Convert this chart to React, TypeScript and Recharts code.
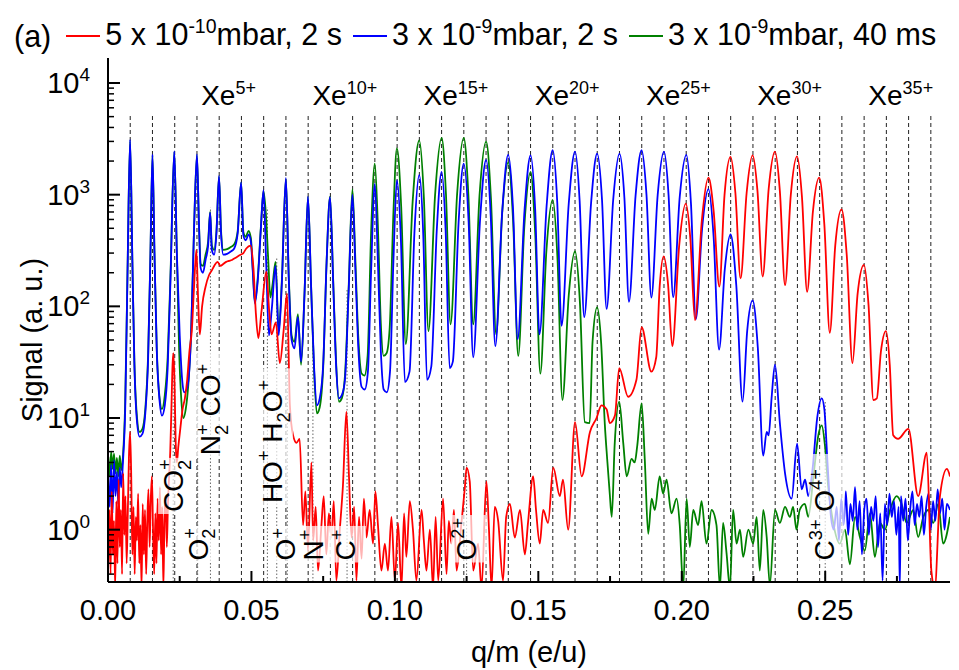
import React from 'react';
import { LineChart, Line, XAxis, YAxis, ReferenceLine, ReferenceDot, Label } from 'recharts';

const FONT = "'Liberation Sans', Arial, sans-serif";

const X_MAX = 0.2935;
const Y_MIN = 0.34;
const Y_MAX = 16750;

const X_TICKS = [0, 0.025, 0.05, 0.075, 0.1, 0.125, 0.15, 0.175, 0.2, 0.225, 0.25, 0.275];
const Y_TICKS = [
  0.4, 0.5, 0.6, 0.7, 0.8, 0.9, 1, 2, 3, 4, 5, 6, 7, 8, 9, 10, 20, 30, 40, 50, 60, 70, 80, 90,
  100, 200, 300, 400, 500, 600, 700, 800, 900, 1000, 2000, 3000, 4000, 5000, 6000, 7000, 8000, 9000, 10000,
];

// Xe charge states 1..37 (q/m for 129Xe)
const XE_LINES = [
  0.00775, 0.0155, 0.02326, 0.03101, 0.03876, 0.04651, 0.05426, 0.06202, 0.06977, 0.07752,
  0.08527, 0.09302, 0.10078, 0.10853, 0.11628, 0.12403, 0.13178, 0.13953, 0.14729, 0.15504,
  0.16279, 0.17054, 0.17829, 0.18605, 0.1938, 0.20155, 0.2093, 0.21705, 0.22481, 0.23256,
  0.24031, 0.24806, 0.25581, 0.26357, 0.27132, 0.27907, 0.28682,
];
const XE_LABEL_Q = [5, 10, 15, 20, 25, 30, 35];
const XE_LABEL_X = [0.03876, 0.07752, 0.11628, 0.15504, 0.1938, 0.23256, 0.27132];
const XE_LABEL_Y = 6300;
const XE_LINE_TOP = 5200;

// rest-gas ion lines: [q/m, top of dotted line]
const ION_LINES: [number, number][] = [
  [0.02273, 40], [0.03125, 60], [0.03571, 770], [0.05556, 770], [0.05882, 270],
  [0.0625, 130], [0.07143, 60], [0.08333, 140], [0.125, 4.1], [0.25, 14.5],
];

type Part = [string, ('sub' | 'sup' | 'stk')?];
const ION_LABELS: { x: number; y: number; parts: Part[] }[] = [
  { x: 0.0227, y: 1.44, parts: [['CO'], ['2', 'sub'], ['+', 'stk']] },
  { x: 0.03125, y: 0.53, parts: [['O'], ['2', 'sub'], ['+', 'stk']] },
  { x: 0.0357, y: 4.65, parts: [['N'], ['2', 'sub'], ['+', 'stk'], [' CO'], ['+', 'sup']] },
  { x: 0.0572, y: 1.73, parts: [['HO'], ['+', 'sup'], [' H'], ['2', 'sub'], ['O'], ['+', 'sup']] },
  { x: 0.0618, y: 0.53, parts: [['O'], ['+', 'sup']] },
  { x: 0.0714, y: 0.53, parts: [['N'], ['+', 'sup']] },
  { x: 0.0826, y: 0.53, parts: [['C'], ['+', 'sup']] },
  { x: 0.1248, y: 0.53, parts: [['O'], ['2+', 'sup']] },
  { x: 0.2495, y: 0.53, parts: [['C'], ['3+', 'sup'], [' O'], ['4+', 'sup']] },
];

const LEGEND_ITEMS = [
  { color: '#ff0000', pre: '5 x 10', exp: '-10', post: 'mbar, 2 s' },
  { color: '#0000ff', pre: '3 x 10', exp: '-9', post: 'mbar, 2 s' },
  { color: '#008000', pre: '3 x 10', exp: '-9', post: 'mbar, 40 ms' },
];

// 5 x 10^-10 mbar, 2 s
const RED: [number, number][] = [
  [0.0001, 0.5], [0.0005, 1.5], [0.0009, 0.4], [0.0013, 2.2], [0.0017, 0.6], [0.0021, 1.2],
  [0.0025, 0.3], [0.0029, 1.8], [0.0033, 0.5], [0.0037, 2.8], [0.0041, 0.7], [0.0045, 1.5],
  [0.0049, 0.4], [0.0053, 3.2], [0.0057, 0.9], [0.0061, 2.0], [0.0065, 0.5], [0.0069, 1.4],
  [0.0073, 4.5], [0.0077, 7.5], [0.0081, 3.0], [0.0085, 0.6], [0.0089, 1.6], [0.0093, 0.4],
  [0.0097, 1.3], [0.0101, 0.8], [0.0105, 2.1], [0.0109, 0.5], [0.0113, 1.1], [0.0117, 0.3],
  [0.0121, 1.7], [0.0125, 0.6], [0.0129, 1.5], [0.0133, 0.4], [0.0137, 1.2], [0.0141, 2.3],
  [0.0145, 0.7], [0.0149, 1.8], [0.0153, 3.0], [0.0157, 1.0], [0.0161, 0.4], [0.0165, 1.4],
  [0.0169, 0.5], [0.0173, 1.9], [0.0177, 0.8], [0.0181, 2.4], [0.0185, 0.6], [0.0189, 1.6],
  [0.0193, 0.3], [0.0197, 1.3], [0.0201, 2.0], [0.0205, 0.7], [0.0209, 1.7], [0.0213, 3.0],
  [0.0217, 5], [0.0221, 12], [0.0225, 30], [0.0228, 38], [0.0232, 20], [0.0236, 6],
  [0.024, 4], [0.0245, 5.5], [0.0252, 8], [0.026, 12], [0.0268, 15], [0.0276, 22],
  [0.0284, 40], [0.0292, 60], [0.03, 150], [0.0308, 320], [0.0314, 120], [0.032, 56],
  [0.0328, 100], [0.034, 150], [0.0352, 190], [0.0362, 210], [0.0372, 235], [0.0382, 250],
  [0.0392, 230], [0.0402, 240], [0.0412, 250], [0.0422, 255], [0.0432, 260], [0.0442, 270],
  [0.0452, 280], [0.0462, 290], [0.0472, 300], [0.0482, 330], [0.0497, 350], [0.0507, 220],
  [0.0515, 90], [0.0524, 52], [0.0535, 90], [0.0552, 205], [0.0562, 90], [0.057, 56],
  [0.0585, 72], [0.0599, 31], [0.0612, 60], [0.0624, 130], [0.0634, 13], [0.0645, 7],
  [0.0657, 6], [0.0668, 6.5], [0.068, 1.1], [0.0688, 2.2], [0.0697, 0.65], [0.0709, 4],
  [0.0715, 0.8], [0.0724, 1.6], [0.0732, 0.43], [0.0744, 1.1], [0.0752, 2.0], [0.0761, 0.6],
  [0.0770, 1.4], [0.0779, 0.85], [0.0787, 1.8], [0.0796, 0.35], [0.0808, 1.0], [0.0819, 2.5],
  [0.0831, 11.4], [0.084, 3], [0.0849, 0.85], [0.0858, 1.6], [0.0866, 0.35], [0.0875, 1.3],
  [0.0884, 0.55], [0.0892, 1.9], [0.0901, 0.85], [0.0912, 1.5], [0.0924, 0.75], [0.0932, 2.2],
  [0.0941, 1.1], [0.0953, 0.43], [0.0965, 0.75], [0.0976, 0.43], [0.0988, 1.3], [0.1, 0.35],
  [0.1011, 1.15], [0.1023, 0.3], [0.1032, 1.4], [0.104, 0.57], [0.1052, 1.8], [0.1063, 1.0],
  [0.1075, 0.35], [0.1093, 1.5], [0.1101, 0.8], [0.111, 0.43], [0.1122, 1.0], [0.1133, 0.3],
  [0.1142, 1.3], [0.1151, 0.35], [0.1168, 1.9], [0.118, 0.4], [0.1188, 1.2], [0.1197, 0.75],
  [0.1206, 1.5], [0.1215, 0.43], [0.1232, 1.15], [0.1244, 2.4], [0.125, 3.6], [0.1261, 2.7],
  [0.1273, 0.43], [0.129, 0.75], [0.1302, 0.3], [0.1319, 2.7], [0.1328, 1.0], [0.1337, 0.3],
  [0.1348, 1.6], [0.136, 1.2], [0.1377, 0.35], [0.1388, 1.3], [0.1401, 1.7], [0.1418, 0.85],
  [0.1436, 1.5], [0.1453, 0.6], [0.1464, 1.15], [0.1482, 3.0], [0.1492, 1.5], [0.1505, 0.75],
  [0.1517, 1.5], [0.1534, 1.15], [0.1552, 3.6], [0.1575, 2.0], [0.1586, 2.8], [0.1604, 1.0],
  [0.1628, 9.2], [0.1651, 3.0], [0.168, 7.5], [0.1703, 10], [0.172, 13], [0.1738, 12],
  [0.1749, 9], [0.1767, 10.5], [0.1782, 28], [0.1813, 15.5], [0.1842, 22], [0.186, 65],
  [0.1894, 26], [0.1911, 35], [0.1923, 150], [0.1937, 280], [0.1952, 160], [0.1967, 44],
  [0.1991, 350], [0.2014, 830], [0.203, 400], [0.2046, 75], [0.207, 590], [0.2093, 1420],
  [0.2111, 720], [0.2131, 150], [0.2149, 990], [0.217, 2180], [0.2187, 1030], [0.2205, 178],
  [0.2226, 1030], [0.2247, 2250], [0.2264, 1070], [0.2282, 185], [0.2303, 1130], [0.2325, 2430],
  [0.2342, 1070], [0.236, 155], [0.238, 990], [0.2402, 2200], [0.2419, 950], [0.2437, 135],
  [0.2457, 700], [0.2479, 1420], [0.2497, 540], [0.2516, 58], [0.2535, 350], [0.2557, 740],
  [0.2575, 290], [0.2595, 31], [0.2613, 130], [0.2635, 235], [0.2651, 103], [0.2668, 14.5],
  [0.268, 15], [0.2694, 39], [0.2712, 60], [0.2725, 30], [0.2737, 7], [0.2754, 6.5],
  [0.279, 8], [0.2824, 2], [0.2854, 4.9], [0.287, 0.43], [0.2882, 0.3], [0.29, 2],
  [0.2924, 3.5], [0.2935, 3],
];

// 3 x 10^-9 mbar, 2 s
const BLUE: [number, number][] = [
  [0.0001, 3.0], [0.0006, 1.6], [0.0011, 3.8], [0.0016, 1.4], [0.0021, 4.2], [0.0026, 2.0],
  [0.0031, 3.3], [0.0036, 1.7], [0.0041, 3.6], [0.0046, 2.4], [0.0052, 4.0], [0.006, 12],
  [0.0068, 200], [0.0077, 3100], [0.0085, 250], [0.0092, 30], [0.01, 10], [0.011, 6.8],
  [0.012, 7.2], [0.013, 11], [0.014, 35], [0.0148, 300], [0.0155, 2300], [0.0162, 300],
  [0.017, 40], [0.018, 14], [0.0188, 10.5], [0.0198, 13], [0.0208, 28], [0.0218, 180],
  [0.0231, 2450], [0.024, 300], [0.025, 55], [0.026, 20], [0.0266, 17], [0.0274, 18],
  [0.0282, 24], [0.029, 60], [0.03, 500], [0.031, 2300], [0.0317, 550], [0.0323, 220],
  [0.0331, 200], [0.034, 260], [0.0349, 350], [0.0356, 690], [0.0362, 320], [0.037, 290],
  [0.0378, 450], [0.0387, 1470], [0.0394, 450], [0.0402, 290], [0.0415, 295], [0.0428, 310],
  [0.044, 330], [0.0452, 450], [0.0464, 1290], [0.0472, 430], [0.048, 390], [0.049, 440],
  [0.0498, 380], [0.0505, 200], [0.0512, 106], [0.0522, 170], [0.0533, 500], [0.0542, 1100],
  [0.0551, 260], [0.0561, 55], [0.0571, 95], [0.0584, 230], [0.0595, 55], [0.0606, 160],
  [0.062, 1410], [0.063, 180], [0.064, 50], [0.065, 42], [0.0662, 80], [0.0673, 32],
  [0.0685, 130], [0.0697, 960], [0.0708, 150], [0.0718, 30], [0.0728, 13], [0.0738, 15],
  [0.075, 30], [0.0762, 250], [0.0774, 950], [0.0785, 160], [0.0795, 30], [0.0805, 15],
  [0.0815, 16], [0.0826, 22], [0.0839, 140], [0.0852, 1000], [0.0863, 190], [0.0873, 40],
  [0.0884, 19], [0.0895, 18], [0.0906, 26], [0.0917, 200], [0.093, 1250], [0.0941, 240],
  [0.0951, 40], [0.0961, 18], [0.0972, 17], [0.0983, 26], [0.0995, 260], [0.1007, 1350],
  [0.1021, 390], [0.1035, 21], [0.1051, 26], [0.1068, 450], [0.1085, 1500], [0.1099, 430],
  [0.1112, 22], [0.1127, 29], [0.1146, 480], [0.1163, 1600], [0.1177, 470], [0.1191, 28],
  [0.1202, 32], [0.1222, 560], [0.124, 1900], [0.1257, 575], [0.1273, 35], [0.1297, 600],
  [0.1318, 2050], [0.1334, 650], [0.135, 44], [0.1374, 700], [0.1395, 2270], [0.1412, 730],
  [0.1428, 51], [0.1452, 730], [0.1473, 2250], [0.1489, 740], [0.1504, 56], [0.1529, 800],
  [0.155, 2500], [0.1566, 850], [0.1581, 67], [0.1606, 830], [0.1628, 2430], [0.1644, 880],
  [0.166, 80], [0.1684, 850], [0.1705, 2330], [0.1722, 900], [0.1738, 95], [0.1761, 900],
  [0.1783, 2330], [0.18, 940], [0.1816, 110], [0.1839, 980], [0.186, 2500], [0.1877, 1000],
  [0.1894, 120], [0.1916, 990], [0.1938, 2430], [0.1954, 990], [0.197, 121], [0.1993, 960],
  [0.2016, 2270], [0.2032, 840], [0.2049, 77], [0.2071, 500], [0.2093, 1120], [0.2111, 420],
  [0.213, 41], [0.215, 215], [0.217, 440], [0.219, 155], [0.2212, 14], [0.2228, 60],
  [0.2247, 113], [0.2265, 43], [0.2284, 4.6], [0.2296, 7.5], [0.2303, 7.0], [0.2313, 15],
  [0.2325, 30], [0.2342, 9], [0.236, 3.2], [0.2383, 1.9], [0.2402, 5.9], [0.2418, 2.3],
  [0.243, 2.8], [0.2441, 2.0], [0.2456, 3.5], [0.2472, 10], [0.2488, 15], [0.2497, 12],
  [0.2508, 4], [0.252, 1.3], [0.253, 1.0], [0.254, 1.6], [0.2548, 0.8], [0.2556, 1.9],
  [0.2564, 1.1], [0.2572, 2.2], [0.258, 0.9], [0.2588, 1.7], [0.2596, 1.2], [0.2604, 2.4],
  [0.2612, 1.0], [0.262, 1.8], [0.2628, 0.6], [0.2636, 1.5], [0.2644, 1.9], [0.2652, 0.9],
  [0.266, 1.6], [0.2668, 1.2], [0.2676, 2.0], [0.2684, 0.7], [0.2692, 1.4], [0.27, 0.35],
  [0.2708, 1.7], [0.2716, 1.1], [0.2724, 2.1], [0.2732, 1.3], [0.274, 1.8], [0.2748, 0.9],
  [0.2756, 1.6], [0.276, 0.3], [0.2764, 2.0], [0.2772, 1.2], [0.278, 1.9], [0.2788, 0.8],
  [0.2796, 1.5], [0.2804, 2.2], [0.2812, 1.1], [0.282, 1.7], [0.2828, 1.3], [0.2836, 2.0],
  [0.2844, 0.9], [0.2852, 1.6], [0.286, 2.1], [0.2868, 1.0], [0.2876, 1.8], [0.2884, 1.2],
  [0.2892, 2.3], [0.29, 1.4], [0.2908, 1.9], [0.2916, 1.0], [0.2924, 1.7], [0.2935, 1.5],
];

// 3 x 10^-9 mbar, 40 ms
const GREEN: [number, number][] = [
  [0.0001, 4.5], [0.0006, 3.0], [0.0011, 5.0], [0.0016, 3.5], [0.0021, 4.8], [0.0026, 3.2],
  [0.0031, 4.4], [0.0036, 3.0], [0.0041, 4.6], [0.0046, 3.4], [0.0052, 4.5], [0.006, 14],
  [0.0068, 200], [0.0077, 3000], [0.0085, 250], [0.0092, 32], [0.01, 11], [0.011, 7.5],
  [0.012, 8], [0.013, 12], [0.014, 38], [0.0148, 300], [0.0155, 2250], [0.0162, 300],
  [0.017, 42], [0.018, 15], [0.0188, 12], [0.0198, 16], [0.0208, 35], [0.0218, 200],
  [0.0231, 2400], [0.024, 300], [0.0248, 40], [0.0256, 14], [0.0263, 10], [0.0271, 12],
  [0.028, 20], [0.029, 60], [0.03, 500], [0.031, 2250], [0.0317, 560], [0.0323, 240],
  [0.0331, 230], [0.034, 290], [0.0349, 380], [0.0356, 700], [0.0362, 350], [0.037, 320],
  [0.0378, 470], [0.0387, 1450], [0.0394, 480], [0.0402, 320], [0.0415, 325], [0.0428, 340],
  [0.044, 360], [0.0452, 470], [0.0464, 1280], [0.0472, 460], [0.048, 420], [0.049, 475],
  [0.0498, 410], [0.0505, 210], [0.0512, 110], [0.0522, 180], [0.0533, 520], [0.0542, 1080],
  [0.055, 690], [0.0558, 280], [0.0566, 120], [0.0574, 160], [0.0584, 250], [0.0595, 60],
  [0.0606, 170], [0.062, 1380], [0.063, 190], [0.064, 55], [0.065, 48], [0.0662, 85],
  [0.0673, 30], [0.0685, 130], [0.0697, 950], [0.0708, 150], [0.0718, 28], [0.0728, 11],
  [0.0738, 12.5], [0.075, 28], [0.0762, 250], [0.0774, 960], [0.0785, 170], [0.0795, 32],
  [0.0805, 14], [0.0815, 15], [0.0826, 24], [0.0839, 150], [0.0852, 1120], [0.0863, 230],
  [0.0873, 50], [0.0884, 25], [0.0894, 24], [0.0905, 36], [0.0917, 450], [0.093, 1900],
  [0.0941, 500], [0.0951, 70], [0.0961, 36], [0.0971, 38], [0.0982, 65], [0.0995, 700],
  [0.1007, 2600], [0.1022, 780], [0.1038, 46], [0.1062, 870], [0.1085, 3070], [0.1101, 950],
  [0.1117, 60], [0.114, 980], [0.1163, 3220], [0.1178, 1020], [0.1194, 69], [0.1217, 1020],
  [0.124, 3220], [0.1256, 1020], [0.1273, 69], [0.1295, 980], [0.1318, 2990], [0.1335, 910],
  [0.1353, 56], [0.1374, 680], [0.1395, 1950], [0.1412, 590], [0.143, 36], [0.1451, 510],
  [0.1473, 1600], [0.1489, 460], [0.1507, 25], [0.1528, 310], [0.155, 900], [0.1567, 260],
  [0.1584, 14.5], [0.1606, 125], [0.1628, 310], [0.1645, 108], [0.1662, 9.2], [0.1679, 9.0],
  [0.1689, 48], [0.1705, 98], [0.1719, 47], [0.1732, 8.6], [0.174, 4.3], [0.1749, 2.1],
  [0.1756, 1.3], [0.1766, 5.7], [0.1782, 14], [0.1796, 6], [0.1808, 3], [0.1825, 4.3],
  [0.1836, 4], [0.1845, 5.7], [0.186, 13.5], [0.1871, 4.3], [0.1883, 0.92], [0.1895, 1.9],
  [0.1906, 1.5], [0.1923, 3], [0.1935, 2.1], [0.1947, 2.8], [0.1964, 1.4], [0.1982, 1.9],
  [0.1993, 1.1], [0.2005, 0.3], [0.2017, 1.9], [0.2028, 0.7], [0.204, 1.5], [0.2057, 1.1],
  [0.2069, 1.8], [0.2086, 0.75], [0.2104, 1.5], [0.2121, 1.1], [0.2133, 0.3], [0.2144, 1.15],
  [0.2156, 0.62], [0.2168, 0.3], [0.2179, 1.5], [0.2191, 0.75], [0.2203, 1.0], [0.2214, 0.57],
  [0.2232, 1.0], [0.2249, 0.75], [0.2261, 1.3], [0.2272, 0.43], [0.2284, 1.5], [0.2296, 0.86],
  [0.2307, 0.32], [0.2325, 1.5], [0.2342, 1.15], [0.236, 1.6], [0.2377, 1.3], [0.2388, 1.6],
  [0.24, 1.0], [0.2411, 1.5], [0.2429, 1.7], [0.2441, 1.3], [0.2459, 3], [0.2476, 7],
  [0.2488, 8.6], [0.2499, 5.7], [0.251, 2.5], [0.2528, 1.15], [0.2551, 0.75], [0.2569, 1.0],
  [0.2586, 0.49], [0.2604, 1.3], [0.2621, 0.86], [0.2638, 0.65], [0.2656, 1.4], [0.2673, 0.57],
  [0.2691, 1.15], [0.2708, 1.0], [0.2726, 1.5], [0.2749, 2], [0.2766, 1.7], [0.2784, 1.15],
  [0.2807, 1.5], [0.2824, 0.86], [0.2842, 1.3], [0.2859, 1.5], [0.2877, 1.15], [0.2894, 1.7],
  [0.2911, 0.75], [0.2935, 1.3],
];

const toRows = (pts: [number, number][]) => pts.map(([x, y]) => ({ x, y }));

function XTick(props: any) {
  const { x, y, payload, side } = props;
  const v = payload.value;
  const major = Math.abs(v * 20 - Math.round(v * 20)) < 1e-6;
  const len = major ? 11 : 6;
  const dir = side === 'top' ? 1 : -1;
  return (
    <g>
      <line x1={x} x2={x} y1={y} y2={y + dir * len} stroke="#000" strokeWidth={2} />
      {side === 'bottom' && major && (
        <text x={x} y={y + 38} textAnchor="middle" fontSize={29} fontFamily={FONT} fill="#000">
          {v.toFixed(2)}
        </text>
      )}
    </g>
  );
}

function YTick(props: any) {
  const { x, y, payload, side } = props;
  const e = Math.log10(payload.value);
  const major = Math.abs(e - Math.round(e)) < 1e-6;
  const len = major ? 12 : 6;
  const dir = side === 'left' ? 1 : -1;
  return (
    <g>
      <line x1={x} x2={x + dir * len} y1={y} y2={y} stroke="#000" strokeWidth={major ? 2 : 1.5} />
      {side === 'left' && major && (
        <text x={x - 18} y={y + 10} textAnchor="end" fontSize={29} fontFamily={FONT} fill="#000">
          10<tspan dy={-12} fontSize={19}>{Math.round(e)}</tspan>
        </text>
      )}
    </g>
  );
}

function XeLabel(props: any) {
  const { viewBox, q } = props;
  return (
    <text x={viewBox.x - 18} y={viewBox.y} fontSize={28} fontFamily={FONT} fill="#000">
      Xe<tspan dy={-11} fontSize={18}>{q}+</tspan>
    </text>
  );
}

function IonLabel(props: any) {
  const { viewBox, parts } = props;
  const size = 28;
  const small = size * 0.65;
  let shift = 0;
  let len = 0;
  const spans = (parts as Part[]).map(([t, k], i) => {
    const target = k === 'sub' ? size * 0.28 : k === 'sup' || k === 'stk' ? -size * 0.42 : 0;
    const dy = target - shift;
    shift = target;
    const dx = k === 'stk' ? -small * 0.556 : 0;
    if (!k) len += t.length * size * 0.7;
    else if (k !== 'stk') len += t.length * small * 0.6;
    return (
      <tspan key={i} dx={dx} dy={dy} fontSize={k ? small : size} style={{ whiteSpace: 'pre' }}>
        {t}
      </tspan>
    );
  });
  return (
    <g transform={`translate(${viewBox.x},${viewBox.y}) rotate(-90)`}>
      <rect x={-2} y={-15} width={len + 6} height={36} fill="#fff" fillOpacity={0.7} />
      <text x={0} y={10} fontSize={size} fontFamily={FONT} fill="#000">
        {spans}
      </text>
    </g>
  );
}

function XTitle(props: any) {
  const { viewBox } = props;
  return (
    <text x={viewBox.x + viewBox.width / 2} y={viewBox.y + 80} textAnchor="middle" fontSize={29} fontFamily={FONT} fill="#000">
      q/m (e/u)
    </text>
  );
}

function YTitle(props: any) {
  const { viewBox } = props;
  const cx = viewBox.x + 42;
  const cy = viewBox.y + viewBox.height / 2 + 20;
  return (
    <text transform={`translate(${cx},${cy}) rotate(-90)`} textAnchor="middle" fontSize={29} fontFamily={FONT} fill="#000">
      Signal (a. u.)
    </text>
  );
}

export default function App() {
  return (
    <div style={{ position: 'absolute', left: 0, top: 0, width: 959, height: 670, background: '#fff', fontFamily: FONT }}>
      <div
        style={{
          position: 'absolute', left: 14, top: 14, display: 'flex', alignItems: 'center',
          fontSize: 30.5, lineHeight: '40px', whiteSpace: 'nowrap', color: '#000',
        }}
      >
        <span style={{ marginRight: 4 }}>(a)</span>
        {LEGEND_ITEMS.map((it) => (
          <React.Fragment key={it.color}>
            <span style={{ display: 'inline-block', width: 34, height: 2, background: it.color, margin: '0 5px 0 11px' }} />
            <span>
              {it.pre}
              <span style={{ fontSize: 19.5, position: 'relative', top: -12 }}>{it.exp}</span>
              {it.post}
            </span>
          </React.Fragment>
        ))}
      </div>
      <LineChart width={959} height={670} margin={{ top: 58, right: 9, bottom: 0, left: 0 }} style={{ position: 'absolute', left: 0, top: 0 }}>
        <XAxis
          xAxisId="b" type="number" dataKey="x" domain={[0, X_MAX]} ticks={X_TICKS} interval={0}
          allowDataOverflow height={88} tickSize={0} tickMargin={0} tickLine={false}
          axisLine={{ stroke: '#000', strokeWidth: 2 }} tick={<XTick side="bottom" />}
        >
          <Label content={<XTitle />} />
        </XAxis>
        <XAxis
          xAxisId="t" orientation="top" type="number" dataKey="x" domain={[0, X_MAX]} ticks={X_TICKS}
          interval={0} allowDataOverflow height={0} tickSize={0} tickMargin={0} tickLine={false}
          axisLine={{ stroke: '#000', strokeWidth: 2 }} tick={<XTick side="top" />}
        />
        <YAxis
          yAxisId="l" type="number" scale="log" domain={[Y_MIN, Y_MAX]} ticks={Y_TICKS} interval={0}
          allowDataOverflow width={108} tickSize={0} tickMargin={0} tickLine={false}
          axisLine={{ stroke: '#000', strokeWidth: 2 }} tick={<YTick side="left" />}
        >
          <Label content={<YTitle />} />
        </YAxis>
        <YAxis
          yAxisId="r" orientation="right" type="number" scale="log" domain={[Y_MIN, Y_MAX]} ticks={Y_TICKS}
          interval={0} allowDataOverflow width={0} tickSize={0} tickMargin={0} tickLine={false}
          axisLine={{ stroke: '#000', strokeWidth: 2 }} tick={<YTick side="right" />}
        />

        {XE_LINES.map((x) => (
          <ReferenceLine
            key={`xe${x}`} xAxisId="b" yAxisId="l" ifOverflow="hidden"
            segment={[{ x, y: Y_MIN }, { x, y: XE_LINE_TOP }]}
            stroke="#222" strokeWidth={1} strokeDasharray="4 3"
          />
        ))}
        {ION_LINES.map(([x, top]) => (
          <ReferenceLine
            key={`ion${x}`} xAxisId="b" yAxisId="l" ifOverflow="hidden"
            segment={[{ x, y: Y_MIN }, { x, y: top }]}
            stroke="#666" strokeWidth={1} strokeDasharray="1.5 2"
          />
        ))}

        <Line xAxisId="b" yAxisId="l" data={toRows(GREEN)} dataKey="y" type="monotone" stroke="#008000" strokeWidth={1.8} dot={false} isAnimationActive={false} />
        <Line xAxisId="b" yAxisId="l" data={toRows(BLUE)} dataKey="y" type="monotone" stroke="#0000ff" strokeWidth={1.8} dot={false} isAnimationActive={false} />
        <Line xAxisId="b" yAxisId="l" data={toRows(RED)} dataKey="y" type="monotone" stroke="#ff0000" strokeWidth={1.8} dot={false} isAnimationActive={false} />

        {XE_LABEL_X.map((x, i) => (
          <ReferenceDot
            key={`xl${x}`} xAxisId="b" yAxisId="l" x={x} y={XE_LABEL_Y} r={0}
            fill="none" stroke="none" label={<XeLabel q={XE_LABEL_Q[i]} />}
          />
        ))}
        {ION_LABELS.map((l) => (
          <ReferenceDot
            key={`il${l.x}`} xAxisId="b" yAxisId="l" x={l.x} y={l.y} r={0}
            fill="none" stroke="none" label={<IonLabel parts={l.parts} />}
          />
        ))}
      </LineChart>
    </div>
  );
}
